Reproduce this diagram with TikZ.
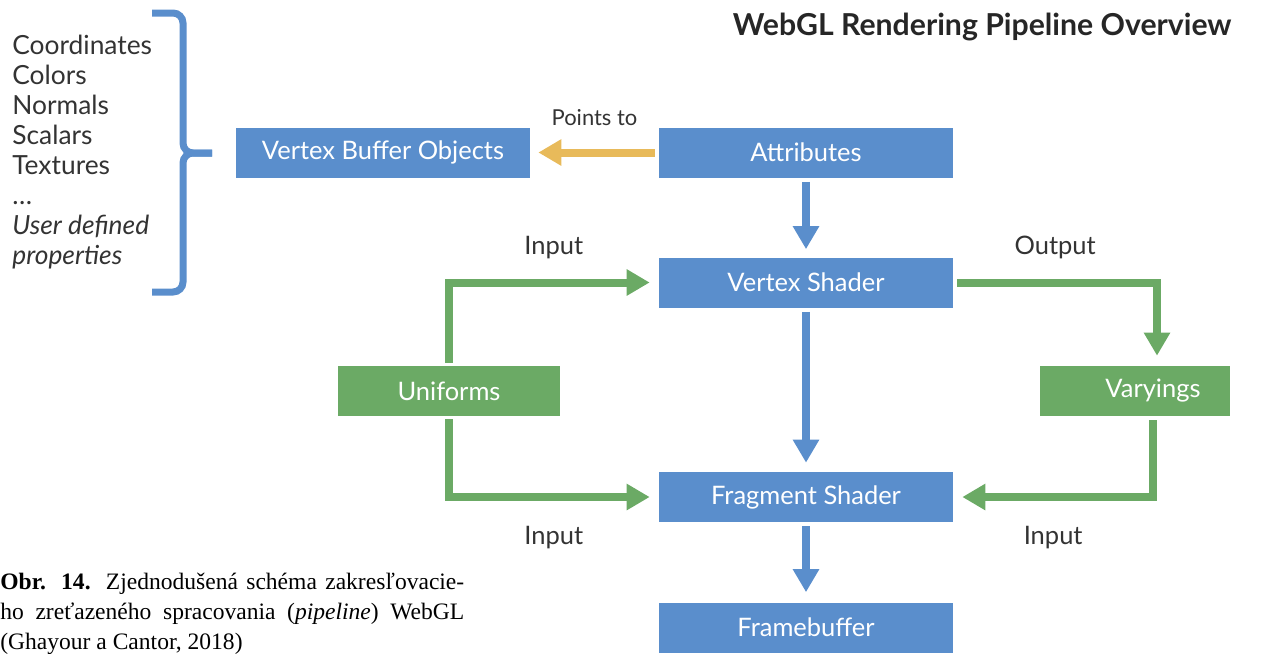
\documentclass[tikz,border=0pt]{standalone}
\usepackage{fontspec}
\setmainfont{Lato}
\newfontfamily\capfont{Liberation Serif}
\usepackage{xcolor}
\usetikzlibrary{arrows.meta,positioning}
\definecolor{boxblue}{RGB}{90,142,204}
\definecolor{boxgreen}{RGB}{107,170,101}
\definecolor{ptryellow}{RGB}{232,186,90}
\definecolor{txtgray}{RGB}{51,51,51}

\begin{document}
\begin{tikzpicture}[
    x=0.02cm, y=-0.02cm,
    blk/.style={rectangle, fill=boxblue, text=white, minimum width=5.88cm, minimum height=1.0cm, inner sep=0pt, font=\fontsize{14.5}{17}\selectfont},
    gblk/.style={blk, fill=boxgreen, minimum width=4.44cm},
    flow/.style={-{Triangle[width=0.5cm,length=0.46cm]}, line width=0.16cm, boxblue},
    gflow/.style={flow, boxgreen},
    ptr/.style={flow, ptryellow},
    lbl/.style={font=\fontsize{14.5}{17}\selectfont, text=txtgray, inner sep=0pt}
]
\useasboundingbox (0,0) rectangle (1266,653);
\node[font=\bfseries\fontsize{17.2}{20}\selectfont, text=black!85, anchor=east, inner sep=0pt] (title) at (1232,27) {WebGL Rendering Pipeline Overview};
\node[lbl, anchor=north west, align=left, font=\fontsize{15}{17.07}\selectfont] (props) at (12,35) {Coordinates\\Colors\\Normals\\Scalars\\Textures\\\dots\\\textit{User defined}\\\textit{properties}};
\draw[boxblue, line width=0.14cm, rounded corners=0.2cm] (152,13) -- (183,13) -- (183,153) -- (212,153);
\draw[boxblue, line width=0.14cm, rounded corners=0.2cm] (152,292) -- (183,292) -- (183,153) -- (212,153);
\node[blk] (vbo) at (383,152.5) {Vertex Buffer Objects};
\node[blk] (attr) at (806,152.5) {Attributes};
\node[blk] (vs) at (806,282.5) {Vertex Shader};
\node[gblk] (uni) at (449,391) {Uniforms};
\node[gblk, minimum width=3.8cm] (var) at (1135,391) {\hspace*{0.72cm}Varyings};
\node[blk] (fs) at (806,497) {Fragment Shader};
\node[blk] (fb) at (806,627.5) {Framebuffer};
\draw[ptr, shorten <=0.08cm, shorten >=0.16cm] (attr.west) -- node[lbl, font=\fontsize{12.5}{15}\selectfont, above=0.46cm]{Points to} (vbo.east);
\draw[flow, shorten <=0.08cm, shorten >=0.16cm] (attr) -- (vs);
\draw[flow, shorten <=0.08cm, shorten >=0.18cm] (vs) -- (fs);
\draw[flow, shorten <=0.08cm, shorten >=0.2cm] (fs) -- (fb);
\draw[gflow, shorten <=0.06cm, shorten >=0.18cm] (uni.north) |- node[lbl, pos=0.75, above=0.4cm]{Input} (vs.west);
\draw[gflow, shorten <=0.06cm, shorten >=0.18cm] (uni.south) |- node[lbl, pos=0.75, below=0.5cm]{Input} (fs.west);
\draw[gflow, shorten <=0.08cm, shorten >=0.2cm] (vs.east) -| node[lbl, pos=0.25, above=0.4cm]{Output} ([xshift=0.44cm]var.north);
\draw[gflow, shorten <=0.08cm, shorten >=0.18cm] ([xshift=0.36cm]var.south) |- node[lbl, pos=0.75, below=0.5cm]{Input} (fs.east);
\node[font=\capfont\fontsize{13.4}{17.07}\selectfont, anchor=north west, text width=9.28cm, align=justify, inner sep=0pt] (cap) at (0,573) {\textbf{Obr. 14.} Zjednodušená schéma zakresľovacie-\linebreak ho zreťazeného spracovania (\textit{pipeline}) WebGL\linebreak (Ghayour a Cantor, 2018)};
\end{tikzpicture}
\end{document}
